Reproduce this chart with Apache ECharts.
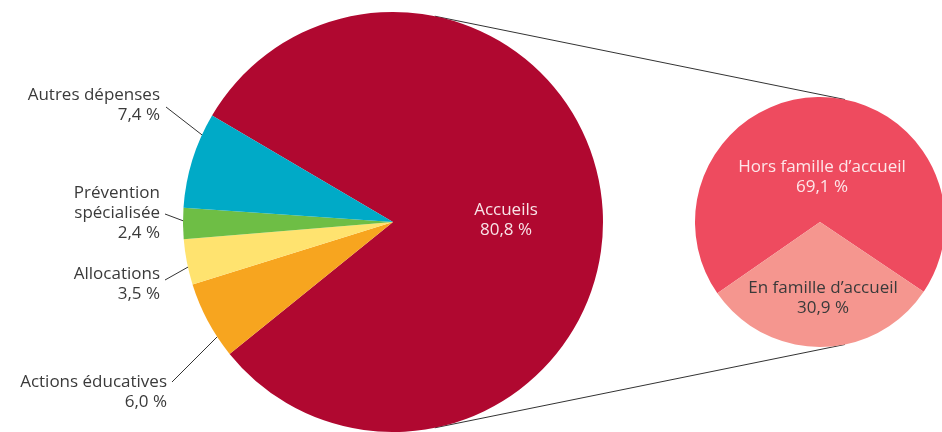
<!DOCTYPE html>
<html>
<head>
<meta charset="utf-8">
<script src="https://cdn.jsdelivr.net/npm/echarts@6/dist/echarts.min.js"></script>
<style>html,body{margin:0;padding:0;background:#fff}#c{width:942px;height:432px}</style>
</head>
<body>
<div id="c"></div>
<script>
// ---- data ----
var mainCategories = ['Accueils', 'Actions éducatives', 'Allocations', 'Prévention\nspécialisée', 'Autres dépenses'];
var mainValues = [80.8, 6.0, 3.5, 2.4, 7.4];
var mainLabels = ['80,8 %', '6,0 %', '3,5 %', '2,4 %', '7,4 %'];
var subCategories = ['Hors famille d\u2019accueil', 'En famille d\u2019accueil'];
var subValues = [69.1, 30.9];
var subLabels = ['69,1 %', '30,9 %'];

// ---- styles / layout ----
var mainColors = ['#B00830', '#F7A51F', '#FFE36F', '#6EBE45', '#00AAC7'];
var subColors = ['#EE4B5F', '#F5968F'];
var FONT = 'Open Sans';
var TXT = '#3a3a3a';
var C1 = [393, 222], R1 = 210;
var C2 = [820, 222], R2 = 125;

// label placements (text anchor + leader line)
var mainPlace = [
  {x: 506, y: 220, align: 'center'},
  {x: 167, y: 392, align: 'right', line: [[172, 382], [219, 335]]},
  {x: 160, y: 284, align: 'right', line: [[165, 280], [197, 262]]},
  {x: 160, y: 213, align: 'right', line: [[165, 214], [189, 223]]},
  {x: 160, y: 105, align: 'right', line: [[166, 107], [206, 138]]}
];
var subPlace = [
  {x: 822, y: 177, align: 'center'},
  {x: 823, y: 298, align: 'center'}
];

var mainData = mainCategories.map(function (n, i) {
  var d = {name: n, value: mainValues[i], itemStyle: {color: mainColors[i]}};
  if (i === 0) {
    d.label = {position: 'inside', color: '#F8E3E7'};
    d.labelLine = {show: false};
  }
  return d;
});
var subData = subCategories.map(function (n, i) {
  return {name: n, value: subValues[i], itemStyle: {color: subColors[i]},
    label: {color: i === 0 ? '#FDE6E9' : TXT}};
});

// external common tangents between the two circles
function tangents() {
  var dx = C2[0] - C1[0], dy = C2[1] - C1[1];
  var d = Math.sqrt(dx * dx + dy * dy);
  var base = Math.atan2(dy, dx);
  var a = Math.acos((R1 - R2) / d);
  var out = [];
  [base - a, base + a].forEach(function (t) {
    var nx = Math.cos(t), ny = Math.sin(t);
    out.push({x1: C1[0] + R1 * nx, y1: C1[1] + R1 * ny, x2: C2[0] + R2 * nx, y2: C2[1] + R2 * ny});
  });
  return out;
}

var chart = echarts.init(document.getElementById('c'));
chart.setOption({
  animation: false,
  backgroundColor: '#fff',
  textStyle: {fontFamily: FONT},
  graphic: tangents().map(function (s) {
    return {type: 'line', z: 0, shape: s, style: {stroke: '#333', lineWidth: 1}};
  }),
  series: [
    {
      type: 'pie',
      center: C1,
      radius: R1,
      startAngle: 149.5,
      clockwise: true,
      z: 3,
      itemStyle: {borderWidth: 0},
      label: {
        position: 'outside',
        fontFamily: FONT, fontSize: 17, lineHeight: 20, color: TXT,
        formatter: function (p) { return p.name + '\n' + mainLabels[p.dataIndex]; }
      },
      labelLine: {show: true, lineStyle: {color: '#333', width: 1}},
      labelLayout: function (p) {
        var L = mainPlace[p.dataIndex];
        var o = {x: L.x, y: L.y, align: L.align, verticalAlign: 'middle'};
        if (L.line) o.labelLinePoints = [L.line[0], L.line[0], L.line[1]];
        return o;
      },
      emphasis: {disabled: true},
      data: mainData
    },
    {
      type: 'pie',
      center: C2,
      radius: R2,
      startAngle: 214.8,
      clockwise: true,
      z: 3,
      itemStyle: {borderWidth: 0},
      label: {
        position: 'inside',
        fontFamily: FONT, fontSize: 17, lineHeight: 20,
        formatter: function (p) { return p.name + '\n' + subLabels[p.dataIndex]; }
      },
      labelLine: {show: false},
      labelLayout: function (p) {
        var L = subPlace[p.dataIndex];
        return {x: L.x, y: L.y, align: L.align, verticalAlign: 'middle'};
      },
      emphasis: {disabled: true},
      data: subData
    }
  ]
});
</script>
</body>
</html>
